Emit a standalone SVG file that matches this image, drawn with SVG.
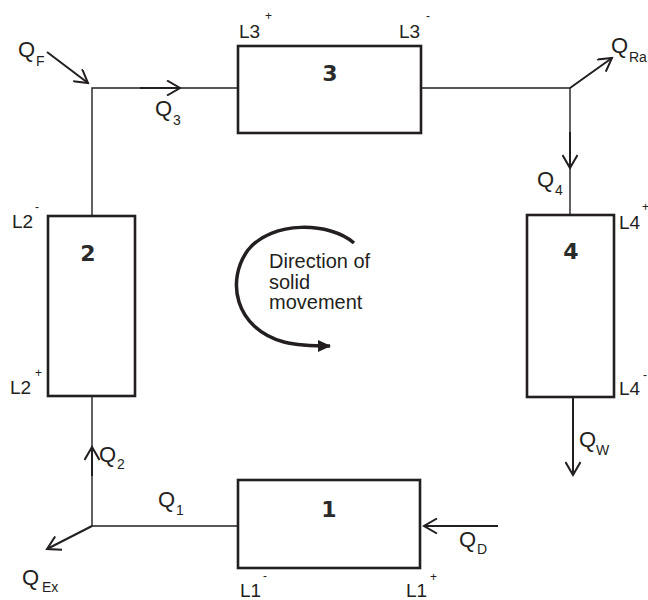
<svg xmlns="http://www.w3.org/2000/svg" width="648" height="600" viewBox="0 0 648 600">
<style>
.box{fill:#fff;stroke:#231f20;stroke-width:2.6}
.ln{stroke:#231f20;stroke-width:1.4;fill:none}
.ar{stroke:#231f20;stroke-width:2;fill:none;marker-end:url(#v)}
.t{font-family:"Liberation Sans",Arial,sans-serif;fill:#231f20;font-size:22px}
.s{font-size:14px}
.l{font-size:19px}
.sup{font-size:12px}
.num{font-family:"DejaVu Sans",sans-serif;font-weight:bold;font-size:22px;fill:#2a2a2a;text-anchor:middle}
</style>
<defs>
<marker id="v" viewBox="0 0 16 16" refX="14" refY="8" markerWidth="16" markerHeight="16" markerUnits="userSpaceOnUse" orient="auto">
<path d="M1 0.5 L14 8 L1 15.5" fill="none" stroke="#231f20" stroke-width="2"/>
</marker>
<marker id="f" viewBox="0 0 14 14" refX="12" refY="7" markerWidth="14" markerHeight="14" markerUnits="userSpaceOnUse" orient="auto">
<path d="M0 1 L13 7 L0 13 Z" fill="#231f20"/>
</marker>
</defs>
<g id="connectors">
<path class="ln" d="M92 216 V88 H238"/>
<path class="ln" d="M421 88 H570 V214"/>
<path class="ln" d="M92 396 V526 H238"/>
<path class="ar" d="M140 88 H180"/>
<path class="ar" d="M570 132 V168"/>
<path class="ar" d="M92 476 V447"/>
<path class="ar" d="M47 52 L88 83"/>
<path class="ar" d="M570 88 L612 58"/>
<path class="ar" d="M92 526 L47 549"/>
<path class="ar" d="M573 397 V475"/>
<path class="ar" d="M498 526 H424"/>
</g>
<g id="node3">
<rect class="box" x="238" y="46" width="183" height="87"/>
<text class="num" x="330" y="81">3</text>
</g>
<g id="node2">
<rect class="box" x="48" y="216" width="87" height="180"/>
<text class="num" x="88" y="261">2</text>
</g>
<g id="node4">
<rect class="box" x="527" y="215" width="87" height="182"/>
<text class="num" x="571" y="259">4</text>
</g>
<g id="node1">
<rect class="box" x="238" y="480" width="182" height="88"/>
<text class="num" x="329" y="517">1</text>
</g>
<g id="rotation">
<path d="M354 243 C330 222 272 220 248 250 C226 280 234 328 284 342 C300 346 316 346 330 346" fill="none" stroke="#231f20" stroke-width="3.5" marker-end="url(#f)"/>
<text class="t" style="font-size:20px" x="269" y="268">Direction of</text>
<text class="t" style="font-size:20px" x="269" y="289">solid</text>
<text class="t" style="font-size:20px" x="269" y="309">movement</text>
</g>
<g id="labels">
<text class="t" x="18" y="57">Q<tspan class="s" x="36" y="66">F</tspan></text>
<text class="t" x="155" y="116">Q<tspan class="s" x="173" y="125">3</tspan></text>
<text class="t" x="611" y="53">Q<tspan class="s" x="629" y="62">Ra</tspan></text>
<text class="t" x="537" y="187">Q<tspan class="s" x="555" y="195">4</tspan></text>
<text class="t" x="579" y="447">Q<tspan class="s" x="596" y="455">W</tspan></text>
<text class="t" x="99" y="462">Q<tspan class="s" x="117" y="469">2</tspan></text>
<text class="t" x="158" y="507">Q<tspan class="s" x="176" y="515">1</tspan></text>
<text class="t" x="22" y="585">Q<tspan class="s" x="42" y="592">Ex</tspan></text>
<text class="t" x="459" y="547">Q<tspan class="s" x="477" y="554">D</tspan></text>
<text class="t l" x="239" y="38">L3<tspan class="sup" x="265" y="20">+</tspan></text>
<text class="t l" x="399" y="38">L3<tspan class="sup" x="426" y="20">-</tspan></text>
<text class="t l" x="12" y="228">L2<tspan class="sup" x="35" y="211">-</tspan></text>
<text class="t l" x="10" y="394">L2<tspan class="sup" x="35" y="377">+</tspan></text>
<text class="t l" x="619" y="229">L4<tspan class="sup" x="642" y="211">+</tspan></text>
<text class="t l" x="619" y="395">L4<tspan class="sup" x="643" y="379">-</tspan></text>
<text class="t l" x="240" y="597">L1<tspan class="sup" x="263" y="580">-</tspan></text>
<text class="t l" x="406" y="597">L1<tspan class="sup" x="430" y="581">+</tspan></text>
</g>
</svg>
